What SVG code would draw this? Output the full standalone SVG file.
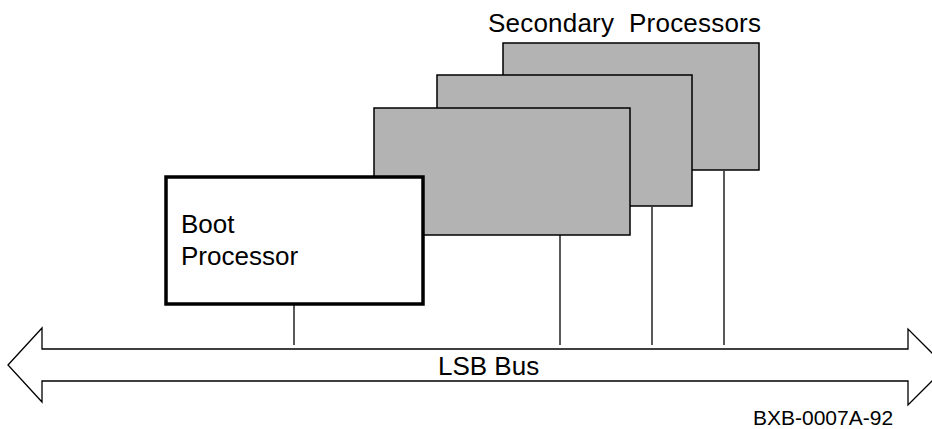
<svg xmlns="http://www.w3.org/2000/svg" width="932" height="429" viewBox="0 0 932 429">
  <style>
    .card { fill: #b3b3b3; stroke: #000; stroke-width: 1.5; }
    .boot { fill: #fff; stroke: #000; stroke-width: 3.5; }
    .tap { stroke: #000; stroke-width: 1.3; fill: none; }
    .bus { fill: #fff; stroke: #000; stroke-width: 1.3; stroke-linejoin: miter; }
    .lbl { font-family: "Liberation Sans", Arial, sans-serif; font-size: 26px; fill: #000; white-space: pre; }
    .tag { font-family: "Liberation Sans", Arial, sans-serif; font-size: 21px; fill: #000; }
  </style>

  <!-- LSB bus: double-headed block arrow -->
  <g id="lsb-bus">
    <path class="bus" d="M8,365 L42,328 L42,349 L908,349 L908,329 L946,367 L908,405 L908,381 L42,381 L42,402 Z"/>
    <text class="lbl" x="438" y="375">LSB Bus</text>
  </g>

  <!-- Secondary processor cards, back to front -->
  <g id="secondary-3">
    <rect class="card" x="503" y="43" width="256" height="127"/>
  </g>
  <g id="secondary-2">
    <rect class="card" x="437" y="75" width="255" height="131"/>
  </g>
  <g id="secondary-1">
    <rect class="card" x="374" y="108" width="256" height="127"/>
  </g>

  <!-- Boot processor -->
  <g id="boot-processor">
    <rect class="boot" x="166" y="177" width="257" height="127"/>
    <text class="lbl" x="181" y="233">Boot</text>
    <text class="lbl" x="181" y="265">Processor</text>
  </g>

  <!-- Bus taps -->
  <g id="connectors">
    <line class="tap" x1="294" y1="304" x2="294" y2="345"/>
    <line class="tap" x1="560" y1="235" x2="560" y2="345"/>
    <line class="tap" x1="652" y1="207" x2="652" y2="345"/>
    <line class="tap" x1="724" y1="171" x2="724" y2="345"/>
  </g>

  <text id="secondary-label" class="lbl" x="488" y="32" textLength="273">Secondary  Processors</text>
  <text id="figure-id" class="tag" x="753" y="425">BXB-0007A-92</text>
</svg>
